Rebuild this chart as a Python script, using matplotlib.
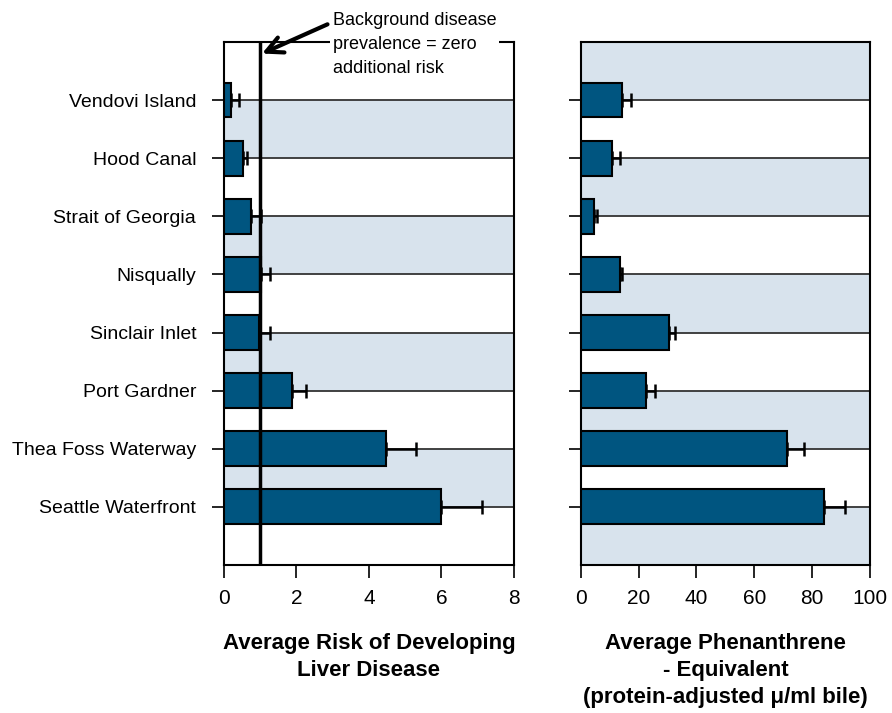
import numpy as np
import matplotlib
matplotlib.use("Agg")
import matplotlib.pyplot as plt

plt.rcParams["font.family"] = ["Liberation Sans Narrow", "Liberation Sans", "DejaVu Sans"]

sites = ["Vendovi Island", "Hood Canal", "Strait of Georgia", "Nisqually",
         "Sinclair Inlet", "Port Gardner", "Thea Foss Waterway", "Seattle Waterfront"]

risk = [0.2, 0.53, 0.74, 1.03, 0.97, 1.88, 4.48, 6.0]
risk_err = [0.21, 0.11, 0.27, 0.24, 0.30, 0.38, 0.81, 1.13]

phen = [14.4, 10.7, 4.7, 13.6, 30.5, 22.7, 71.4, 84.1]
phen_err = [3.0, 3.0, 0.8, 0.6, 2.0, 2.9, 5.7, 7.4]

BAR = "#005580"
BAND = "#d8e3ed"

fig = plt.figure(figsize=(8.92, 7.13), dpi=100)
ax1 = fig.add_axes([0.2511, 0.2076, 0.3251, 0.7336])
ax2 = fig.add_axes([0.651, 0.2076, 0.3243, 0.7336])

y = np.arange(len(sites))


def draw(ax, vals, errs, xmax, step, shade_start):
    # alternating bands between gridlines
    for k in range(-1, len(sites)):
        if (k - shade_start) % 2 == 0:
            ax.axhspan(k, k + 1, color=BAND, lw=0, zorder=0)
    for yy in y:
        ax.axhline(yy, color="#333333", lw=1.3, zorder=1)
    ax.barh(y, vals, height=0.6, color=BAR, edgecolor="black", lw=1.5, zorder=3)
    ax.errorbar(vals, y, xerr=[np.zeros(len(vals)), errs], fmt="none",
                ecolor="black", elinewidth=1.8, capsize=5, capthick=1.8, zorder=4)
    ax.set_ylim(8, -1)
    ax.set_xlim(0, xmax)
    ax.set_xticks(np.arange(0, xmax + step / 2, step))
    ax.set_yticks(y)
    ax.tick_params(axis="both", direction="out", length=9, width=1.2, labelsize=15)
    ax.tick_params(axis="x", pad=8)
    ax.tick_params(axis="y", pad=11)
    for s in ax.spines.values():
        s.set_linewidth(1.5)


draw(ax1, risk, risk_err, 8, 2, 0)
draw(ax2, phen, phen_err, 100, 20, -1)

ax1.set_yticklabels(sites, fontsize=14)
ax2.set_yticklabels([])

ax1.axvline(1, color="black", lw=2.5, zorder=5)

ax1.set_xlabel("Average Risk of Developing\nLiver Disease", fontsize=16,
               fontweight="bold", labelpad=18, linespacing=1.4)
ax2.set_xlabel("Average Phenanthrene\n- Equivalent\n(protein-adjusted \u03bc/ml bile)",
               fontsize=16, fontweight="bold", labelpad=18, linespacing=1.4)

ax1.annotate("Background disease\nprevalence = zero\nadditional risk",
             xy=(1.05, -0.8), xytext=(3.0, -0.95), fontsize=13,
             va="center", ha="left", linespacing=1.55,
             bbox=dict(boxstyle="square,pad=0.15", fc="white", ec="none"),
             arrowprops=dict(arrowstyle="->,head_length=0.9,head_width=0.45",
                             color="black", lw=3, shrinkA=2, shrinkB=0,
                             relpos=(0, 0.85)),
             annotation_clip=False, zorder=6)

fig.savefig("out.png", dpi=100)
